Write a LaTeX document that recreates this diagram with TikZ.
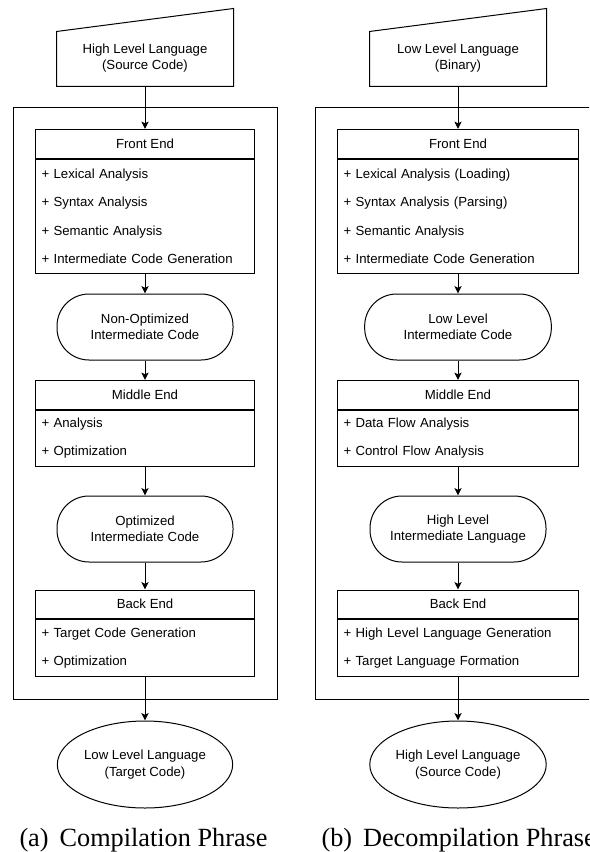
\documentclass[tikz,border=0pt]{standalone}
\usepackage{fontspec}
\setmainfont{Liberation Sans}
\newfontfamily\capfont{Liberation Serif}
\usetikzlibrary{arrows.meta,shapes.geometric}

\begin{document}
\begin{tikzpicture}[
    x=0.75pt, y=-0.75pt,
    every node/.style={font=\fontsize{9.9pt}{12.4pt}\selectfont},
    srcbox/.style={minimum width=132pt, minimum height=42pt, align=center},
    head/.style={draw, anchor=north, minimum width=#1, minimum height=21.4pt, inner sep=0pt},
    body/.style={draw, anchor=north, align=left, inner xsep=4.5pt,
                 font=\fontsize{9.9pt}{21.4pt}\selectfont},
    term/.style={draw, rounded corners=24pt, minimum width=#1,
                 minimum height=49.5pt, align=center},
    outp/.style={draw, ellipse, minimum width=131.5pt, minimum height=65.25pt,
                 inner sep=0pt, align=center},
    caption/.style={anchor=base west, inner sep=0pt,
                    font=\capfont\fontsize{19.7pt}{22pt}\selectfont},
    frame/.style={draw, line width=0.75pt},
    arr/.style={-{Stealth[length=5.5pt, width=5.25pt, inset=1.2pt]}, line width=0.75pt},
    line width=0.75pt
  ]
  \useasboundingbox (0,0) rectangle (589,852);
  \clip (0,0) rectangle (589,852);

  % compilation
  \draw[frame] (13,108) rectangle (277,699);
  \node[srcbox] (srcA) at (145,58) {High Level Language\\(Source Code)};
  \draw (srcA.south west) -- (srcA.south east) -- ([yshift=15.75pt]srcA.north east)
        -- ([yshift=-1.5pt]srcA.north west) -- cycle;
  \node[head=164.25pt] (feA) at (145,129) {Front End};
  \node[body, minimum height=85.7pt, text width=155.25pt] (feAb) at (feA.south)
    {+ Lexical Analysis\\+ Syntax Analysis\\+ Semantic Analysis\\+ Intermediate Code Generation};
  \node[term=132pt] (irA) at (145,327) {Non-Optimized\\Intermediate Code};
  \node[head=164.25pt] (meA) at (145,380) {Middle End};
  \node[body, minimum height=42pt, text width=155.25pt] (meAb) at (meA.south)
    {+ Analysis\\+ Optimization};
  \node[term=132pt] (optA) at (145,529) {Optimized\\Intermediate Code};
  \node[head=164.25pt] (beA) at (145,589.5) {Back End};
  \node[body, minimum height=42.5pt, text width=155.25pt] (beAb) at (beA.south)
    {+ Target Code Generation\\+ Optimization};
  \node[outp] (outA) at (145,764.5) {Low Level Language\\(Target Code)};
  \node[caption] (capA) at (19,846.5) {(a)\hspace{8.25pt}Compilation Phrase};

  \draw[arr] (srcA) -- (feA);
  \draw[arr] (feAb) -- (irA);
  \draw[arr] (irA) -- (meA);
  \draw[arr] (meAb) -- (optA);
  \draw[arr] (optA) -- (beA);
  \draw[arr] (beAb) -- (outA);

  % decompilation
  \draw[frame] (315,108) rectangle (601,699);
  \node[srcbox] (srcB) at (458,58) {Low Level Language\\(Binary)};
  \draw (srcB.south west) -- (srcB.south east) -- ([yshift=15.75pt]srcB.north east)
        -- ([yshift=-1.5pt]srcB.north west) -- cycle;
  \node[head=180.75pt] (feB) at (458,129) {Front End};
  \node[body, minimum height=85.7pt, text width=171.75pt] (feBb) at (feB.south)
    {+ Lexical Analysis (Loading)\\+ Syntax Analysis (Parsing)\\+ Semantic Analysis\\+ Intermediate Code Generation};
  \node[term=140pt] (irB) at (458,327) {Low Level\\Intermediate Code};
  \node[head=180.75pt] (meB) at (458,380) {Middle End};
  \node[body, minimum height=42pt, text width=171.75pt] (meBb) at (meB.south)
    {+ Data Flow Analysis\\+ Control Flow Analysis};
  \node[term=132pt] (hlB) at (458,529) {High Level\\Intermediate Language};
  \node[head=180.75pt] (beB) at (458,589.5) {Back End};
  \node[body, minimum height=42.5pt, text width=171.75pt] (beBb) at (beB.south)
    {+ High Level Language Generation\\+ Target Language Formation};
  \node[outp] (outB) at (458,764.5) {High Level Language\\(Source Code)};
  \node[caption] (capB) at (321,846.5) {(b)\hspace{8.25pt}Decompilation Phrase};

  \draw[arr] (srcB) -- (feB);
  \draw[arr] (feBb) -- (irB);
  \draw[arr] (irB) -- (meB);
  \draw[arr] (meBb) -- (hlB);
  \draw[arr] (hlB) -- (beB);
  \draw[arr] (beBb) -- (outB);
\end{tikzpicture}
\end{document}
